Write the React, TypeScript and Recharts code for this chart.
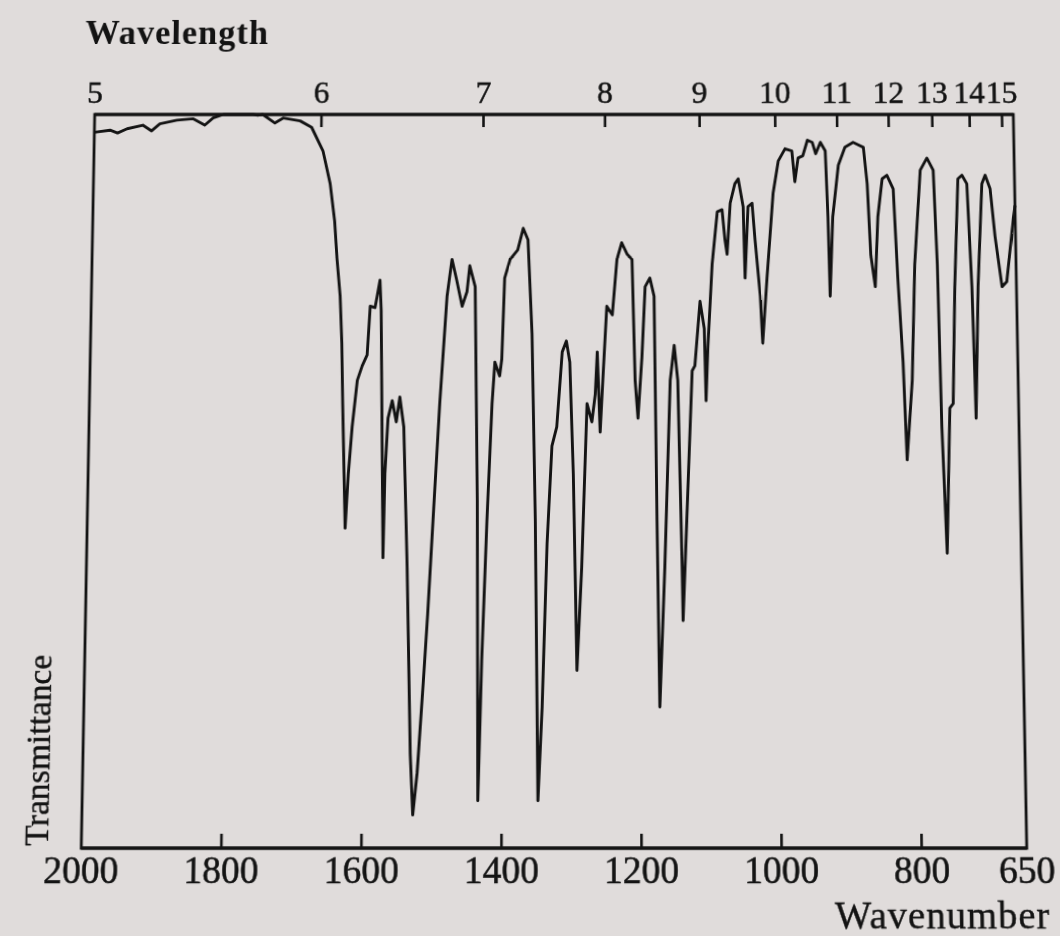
import React from 'react';
import { LineChart, Line, XAxis, YAxis, ReferenceArea } from 'recharts';

// IR spectrum (cm-1 / % transmittance)
const wavenumbers = [
  2000, 1977, 1966, 1952, 1929, 1916, 1904, 1879, 1855, 1838,
  1826, 1811, 1787, 1767, 1760, 1753, 1735, 1723, 1698, 1681,
  1664, 1653, 1646, 1642, 1637, 1634, 1632, 1627, 1623, 1618,
  1611, 1604, 1597, 1593, 1586, 1583, 1579, 1577, 1572, 1570,
  1566, 1560, 1554, 1549, 1543, 1537, 1531, 1527, 1521, 1513,
  1507, 1500, 1491, 1481, 1474, 1467, 1459, 1452, 1448, 1440,
  1436, 1434, 1429, 1422, 1415, 1411, 1404, 1401, 1397, 1389,
  1378, 1370, 1363, 1357, 1352, 1348, 1342, 1335, 1328, 1321,
  1313, 1307, 1302, 1297, 1292, 1285, 1277, 1270, 1265, 1262,
  1258, 1254, 1248, 1240, 1233, 1226, 1218, 1211, 1207, 1203,
  1197, 1192, 1185, 1179, 1176, 1173, 1165, 1156, 1150, 1145,
  1140, 1139, 1133, 1124, 1120, 1112, 1106, 1104, 1101, 1094,
  1086, 1079, 1075, 1072, 1067, 1060, 1055, 1048, 1046, 1041,
  1035, 1031, 1024, 1021, 1014, 1004, 996, 986, 976, 972,
  967, 960, 953, 946, 941, 934, 927, 924, 922, 917,
  908, 898, 886, 871, 866, 862, 856, 851, 844, 837,
  828, 823, 817, 813, 804, 798, 788, 778, 769, 765,
  762, 759, 757, 750, 745, 740, 733, 727, 720, 715,
  713, 712, 706, 698, 693, 686, 680, 671, 664, 655,
  650,
];

const transmittance = [
  97.5, 97.8, 97.4, 98.0, 98.5, 97.7, 98.7, 99.2, 99.4, 98.5,
  99.5, 100, 100, 100, 99.9, 100, 98.8, 99.5, 99.1, 98.2,
  94.9, 90.3, 85.1, 79.8, 74.7, 68.2, 59.9, 42.9, 50.3, 56.7,
  63.1, 65.1, 66.6, 73.3, 73.1, 74.7, 76.9, 72.8, 38.9, 50.3,
  57.9, 60.3, 57.4, 60.8, 56.7, 37.6, 12.5, 4.4, 10.0, 21.9,
  31.3, 43.9, 59.9, 74.7, 79.8, 76.9, 73.3, 75.3, 78.9, 76.0,
  46.7, 6.3, 25.0, 43.9, 59.9, 65.6, 63.7, 66.0, 77.2, 79.8,
  81.1, 84.1, 82.5, 69.5, 43.9, 6.3, 18.8, 40.8, 54.1, 56.7,
  67.0, 68.5, 65.6, 50.3, 23.7, 37.6, 59.9, 57.4, 61.2, 67.0,
  56.0, 63.1, 73.3, 72.1, 79.8, 82.1, 80.5, 79.8, 63.1, 57.9,
  66.3, 76.0, 77.2, 74.7, 43.9, 18.8, 37.6, 63.1, 67.9, 63.1,
  37.6, 30.4, 43.9, 64.4, 65.1, 74.0, 70.2, 60.3, 67.5, 79.1,
  86.4, 86.7, 82.5, 80.5, 87.6, 90.3, 91.0, 87.1, 77.2, 87.1,
  87.6, 82.5, 74.7, 68.2, 77.2, 89.0, 93.5, 95.2, 94.9, 90.6,
  93.9, 94.2, 96.4, 96.1, 94.5, 96.1, 94.9, 85.7, 74.7, 85.7,
  92.9, 95.4, 96.1, 95.4, 90.3, 80.4, 76.0, 85.7, 91.0, 91.5,
  89.6, 77.2, 65.6, 52.2, 63.1, 79.1, 92.2, 93.9, 92.2, 79.1,
  56.7, 46.5, 39.5, 59.3, 59.9, 76.0, 91.0, 91.5, 90.3, 76.0,
  64.4, 57.9, 76.0, 90.3, 91.5, 89.6, 83.0, 76.0, 76.7, 83.7,
  87.3,
];

const wavenumberTicks = [2000, 1800, 1600, 1400, 1200, 1000, 800, 650];
const wavelengthTicks = [5, 6, 7, 8, 9, 10, 11, 12, 13, 14, 15];

const INK = '#131313';
const PAPER = '#e0dcdb';
const SERIF = '"Liberation Serif", "Times New Roman", serif';

const spectrum = wavenumbers.map((w, i) => ({ w, t: transmittance[i] }));

// inward tick mark + label below the frame
const BottomTick = (props: any) => {
  const { x, y, payload } = props;
  const edge = payload.value === 2000 || payload.value === 650;
  return (
    <g>
      {!edge && <line x1={x} x2={x} y1={y} y2={y - 14} stroke={INK} strokeWidth={2.6} />}
      <text x={x} y={y + 34} textAnchor="middle" fill={INK} stroke={INK} strokeWidth={0.5}
        style={{ fontFamily: SERIF, fontSize: 37 }}>
        {payload.value}
      </text>
    </g>
  );
};

// wavelength ticks sit at 10000/λ on the wavenumber scale
const TopTick = (props: any) => {
  const { x, y, payload } = props;
  const lambda = Math.round(10000 / payload.value);
  return (
    <g>
      {lambda !== 5 && <line x1={x} x2={x} y1={y} y2={y + 13} stroke={INK} strokeWidth={2.6} />}
      <text x={x} y={y - 12} textAnchor="middle" fill={INK} stroke={INK} strokeWidth={0.5}
        style={{ fontFamily: SERIF, fontSize: 32 }}>
        {lambda}
      </text>
    </g>
  );
};

export default function App() {
  return (
    <div style={{ position: 'absolute', left: 0, top: 0, width: 1060, height: 936, background: PAPER, overflow: 'hidden' }}>
      {/* slight keystone, like the photographed page */}
      <div style={{ position: 'absolute', left: 0, top: 0, width: 1060, height: 936,
        transform: 'perspective(2000px) rotateX(4.5deg)', transformOrigin: '554px 480px' }}>
        <LineChart width={1060} height={936} data={spectrum}
          margin={{ top: 48, right: 40, bottom: 32, left: 88 }}>
          <XAxis xAxisId="bottom" dataKey="w" type="number" domain={[650, 2000]} reversed
            ticks={wavenumberTicks} interval={0} height={60} tickSize={0} tickMargin={0}
            axisLine={{ stroke: INK, strokeWidth: 2.8 }} tickLine={false} tick={<BottomTick />} />
          <XAxis xAxisId="top" orientation="top" dataKey="w" type="number" domain={[650, 2000]} reversed
            ticks={wavelengthTicks.map((l) => 10000 / l)} interval={0} height={60} tickSize={0} tickMargin={0}
            allowDataOverflow axisLine={{ stroke: INK, strokeWidth: 2.8 }} tickLine={false} tick={<TopTick />} />
          <YAxis type="number" domain={[0, 100]} hide width={0} />
          <ReferenceArea xAxisId="bottom" x1={2000} x2={650} y1={0} y2={100}
            fill="none" stroke={INK} strokeWidth={2.8} />
          <Line xAxisId="bottom" type="linear" dataKey="t" stroke={INK} strokeWidth={2.9}
            dot={false} isAnimationActive={false} strokeLinejoin="round" />
        </LineChart>
        <div style={{ position: 'absolute', left: 77, top: 4, fontFamily: SERIF, fontWeight: 'bold',
          fontSize: 35, letterSpacing: 1, color: INK, lineHeight: '40px' }}>
          Wavelength
        </div>
        <div style={{ position: 'absolute', right: 18, top: 889, fontFamily: SERIF, fontSize: 38,
          letterSpacing: 1, color: INK, lineHeight: '40px', WebkitTextStroke: '0.4px #131313' }}>
          Wavenumber
        </div>
        <div style={{ position: 'absolute', left: 44, top: 748, transform: 'translate(-50%, -50%) rotate(-90deg)',
          fontFamily: SERIF, fontSize: 33, color: INK, whiteSpace: 'nowrap', lineHeight: '36px',
          WebkitTextStroke: '0.4px #131313' }}>
          Transmittance
        </div>
      </div>
    </div>
  );
}
